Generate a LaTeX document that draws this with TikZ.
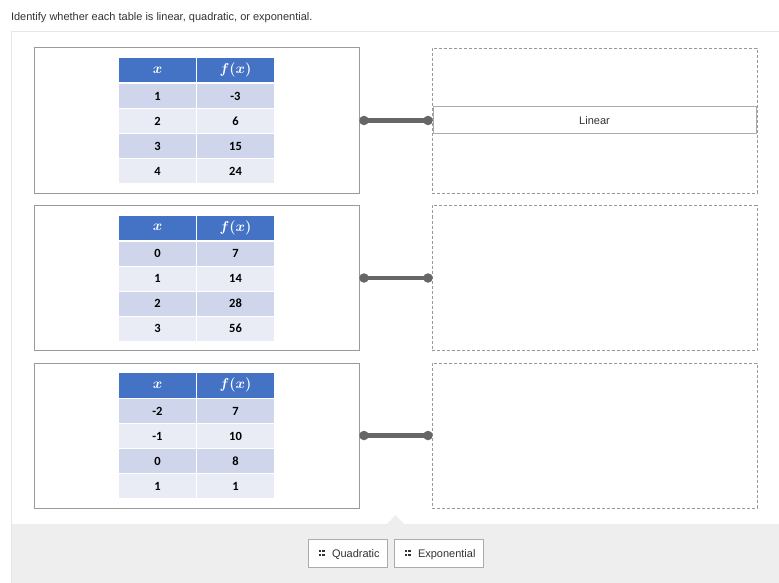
\documentclass[tikz,border=0pt]{standalone}
\usepackage{fontspec}
\setmainfont{Liberation Sans}
\newfontfamily\calib{Carlito}
\usetikzlibrary{calc}
\definecolor{txt}{HTML}{333333}
\definecolor{panelc}{HTML}{E6E6E6}
\definecolor{boxgrey}{HTML}{9A9A9A}
\definecolor{dashgrey}{HTML}{999999}
\definecolor{hblue}{HTML}{4472C4}
\definecolor{rowodd}{HTML}{CFD5EA}
\definecolor{roweven}{HTML}{E9EBF5}
\definecolor{wiregrey}{HTML}{666666}
\definecolor{ansgrey}{HTML}{ABABAB}
\definecolor{bggrey}{HTML}{EEEEEE}
\definecolor{gripc}{HTML}{333333}
\newcommand\mktable[3]{%
  \node[hcell] (t#1hx) at (119,#2) {$x$};
  \node[hcell] (t#1hf) at (197,#2) {$f(x)$};
  \foreach \xv/\fv [count=\i] in {#3} {
    \pgfmathsetmacro\yy{#2+26+25*(\i-1)}
    \ifodd\i \def\rc{rowodd}\else\def\rc{roweven}\fi
    \node[bcell, fill=\rc] (t#1r\i x) at (119,\yy) {\xv};
    \node[bcell, fill=\rc] (t#1r\i f) at (197,\yy) {\fv};
  }%
}
\begin{document}
\begin{tikzpicture}[x=1pt,y=-1pt,
  every node/.style={inner sep=0pt, outer sep=0pt},
  titletext/.style={anchor=base west, text=txt, font=\fontsize{11}{13}\selectfont},
  qbox/.style={draw=boxgrey, line width=1pt, anchor=north west, minimum width=325pt, minimum height=145pt},
  abox/.style={draw=dashgrey, line width=0.8pt, dash pattern=on 3pt off 2pt, anchor=north west, minimum width=325pt, minimum height=145pt},
  hcell/.style={fill=hblue, text=white, anchor=north west, minimum width=77pt, minimum height=24.5pt, font=\fontsize{14}{16}\selectfont\mathversion{bold}},
  bcell/.style={text=black, anchor=north west, minimum width=77pt, minimum height=24pt, font=\calib\bfseries\fontsize{12.5}{14}\selectfont},
  wire/.style={draw=wiregrey, line width=4.5pt},
  wdot/.style={circle, fill=wiregrey, minimum size=9.5pt},
  answer/.style={draw=ansgrey, line width=1pt, fill=white, minimum width=323pt, minimum height=27pt, text=txt, font=\fontsize{11}{13}\selectfont},
  chip/.style={draw=ansgrey, fill=white, line width=1pt, minimum height=28pt},
  chiptext/.style={anchor=base west, text=txt, font=\fontsize{11}{13}\selectfont},
]
\useasboundingbox (0,0) rectangle (779,583);
\fill[white] (0,0) rectangle (779,583);
% title
\node[titletext] (title) at (11,20.5) {Identify whether each table is linear, quadratic, or exponential.};
% panel
\fill[bggrey] (12,524) -- (387,524) -- (395.5,515) -- (404,524) -- (779,524) -- (779,583) -- (12,583) -- cycle;
\draw[panelc, line width=1pt] (11,583) -- (11,32) -- (779,32);
% question boxes
\node[qbox] (q1) at (34,48) {};
\node[qbox] (q2) at (34,205.5) {};
\node[qbox] (q3) at (34,363) {};
% answer boxes
\node[abox] (a1) at (432,48) {};
\node[abox] (a2) at (432,205.5) {};
\node[abox] (a3) at (432,363) {};
% tables
\mktable{1}{58}{1/-3,2/6,3/15,4/24}
\mktable{2}{215.5}{0/7,1/14,2/28,3/56}
\mktable{3}{373}{-2/7,-1/10,0/8,1/1}
% placed answer
\node[answer] (lin) at (a1.center) {Linear};
% connectors
\foreach \k in {1,2,3}{
  \node[wdot] (d\k a) at ([xshift=5pt]q\k.east) {};
  \node[wdot] (d\k b) at ([xshift=-4pt]a\k.west) {};
  \draw[wire] (d\k a.center) -- (d\k b.center);
}
% option chips
\node[chip, minimum width=79pt] (quad) at (347.5,553) {};
\node[chip, minimum width=89pt] (expo) at (438.5,553) {};
\node[chiptext] (quadt) at ($(quad.west)+(24,4)$) {Quadratic};
\node[chiptext] (expot) at ($(expo.west)+(24,4)$) {Exponential};
\foreach \c in {quad,expo}{
  \foreach \dx in {0,3.6}{
    \foreach \dy in {0,3.6}{
      \fill[gripc] ($(\c.west)+(10.5+\dx,-3+\dy)$) rectangle +(2.4,2.4);
    }
  }
}
\end{tikzpicture}
\end{document}
